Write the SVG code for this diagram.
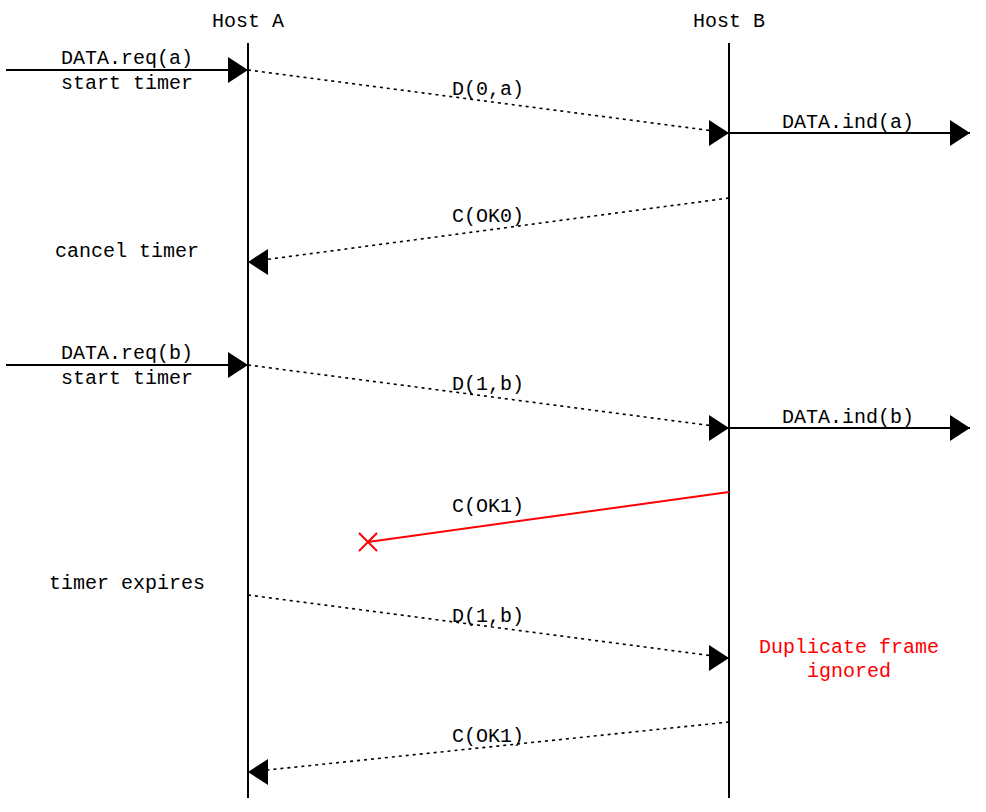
<svg xmlns="http://www.w3.org/2000/svg" width="986" height="812" viewBox="0 0 986 812">
<style>
text{font-family:"Liberation Mono","DejaVu Sans Mono",monospace;font-size:20px;fill:#000;text-anchor:middle}
.red{fill:#ff0000}
.life{stroke:#000;stroke-width:2;fill:none}
.solid{stroke:#000;stroke-width:2;fill:none}
.dash{stroke:#000;stroke-width:1.6;stroke-dasharray:3,4;fill:none}
.lost{stroke:#ff0000;stroke-width:2;fill:none}
</style>
<defs>
<marker id="arrR" markerUnits="userSpaceOnUse" markerWidth="21" markerHeight="26" refX="20" refY="13" orient="0" overflow="visible">
<path d="M0,0 L20,13 L0,26 Z" fill="#000"/>
</marker>
<marker id="arrL" markerUnits="userSpaceOnUse" markerWidth="21" markerHeight="26" refX="0" refY="13" orient="0" overflow="visible">
<path d="M20,0 L0,13 L20,26 Z" fill="#000"/>
</marker>
</defs>
<rect width="986" height="812" fill="#fff"/>
<g id="hostA">
<text x="248" y="27">Host A</text>
<line class="life" x1="248" y1="43" x2="248" y2="798"/>
</g>
<g id="hostB">
<text x="729" y="27">Host B</text>
<line class="life" x1="729" y1="43" x2="729" y2="798"/>
</g>
<g id="connectors">
<line class="solid" x1="6" y1="70" x2="248" y2="70" marker-end="url(#arrR)"/>
<line class="dash" x1="248" y1="70" x2="729" y2="133" marker-end="url(#arrR)"/>
<line class="solid" x1="729" y1="133" x2="970" y2="133" marker-end="url(#arrR)"/>
<line class="dash" x1="729" y1="198" x2="248" y2="262" marker-end="url(#arrL)"/>
<line class="solid" x1="6" y1="365" x2="248" y2="365" marker-end="url(#arrR)"/>
<line class="dash" x1="248" y1="365" x2="729" y2="428" marker-end="url(#arrR)"/>
<line class="solid" x1="729" y1="428" x2="970" y2="428" marker-end="url(#arrR)"/>
<line class="lost" x1="729" y1="492" x2="368" y2="542"/>
<path class="lost" d="M359,533 L377,551 M377,533 L359,551" stroke-width="1.5"/>
<line class="dash" x1="248" y1="595" x2="729" y2="658" marker-end="url(#arrR)"/>
<line class="dash" x1="729" y1="722" x2="248" y2="772" marker-end="url(#arrL)"/>
</g>
<g id="labels">
<text x="127" y="64">DATA.req(a)</text>
<text x="127" y="89">start timer</text>
<text x="488" y="95">D(0,a)</text>
<text x="848" y="128">DATA.ind(a)</text>
<text x="488" y="222">C(OK0)</text>
<text x="127" y="257">cancel timer</text>
<text x="127" y="359">DATA.req(b)</text>
<text x="127" y="384">start timer</text>
<text x="488" y="390">D(1,b)</text>
<text x="848" y="423">DATA.ind(b)</text>
<text x="488" y="512">C(OK1)</text>
<text x="127" y="589">timer expires</text>
<text x="488" y="622">D(1,b)</text>
<text class="red" x="849" y="653">Duplicate frame</text>
<text class="red" x="849" y="677">ignored</text>
<text x="488" y="742">C(OK1)</text>
</g>
</svg>
